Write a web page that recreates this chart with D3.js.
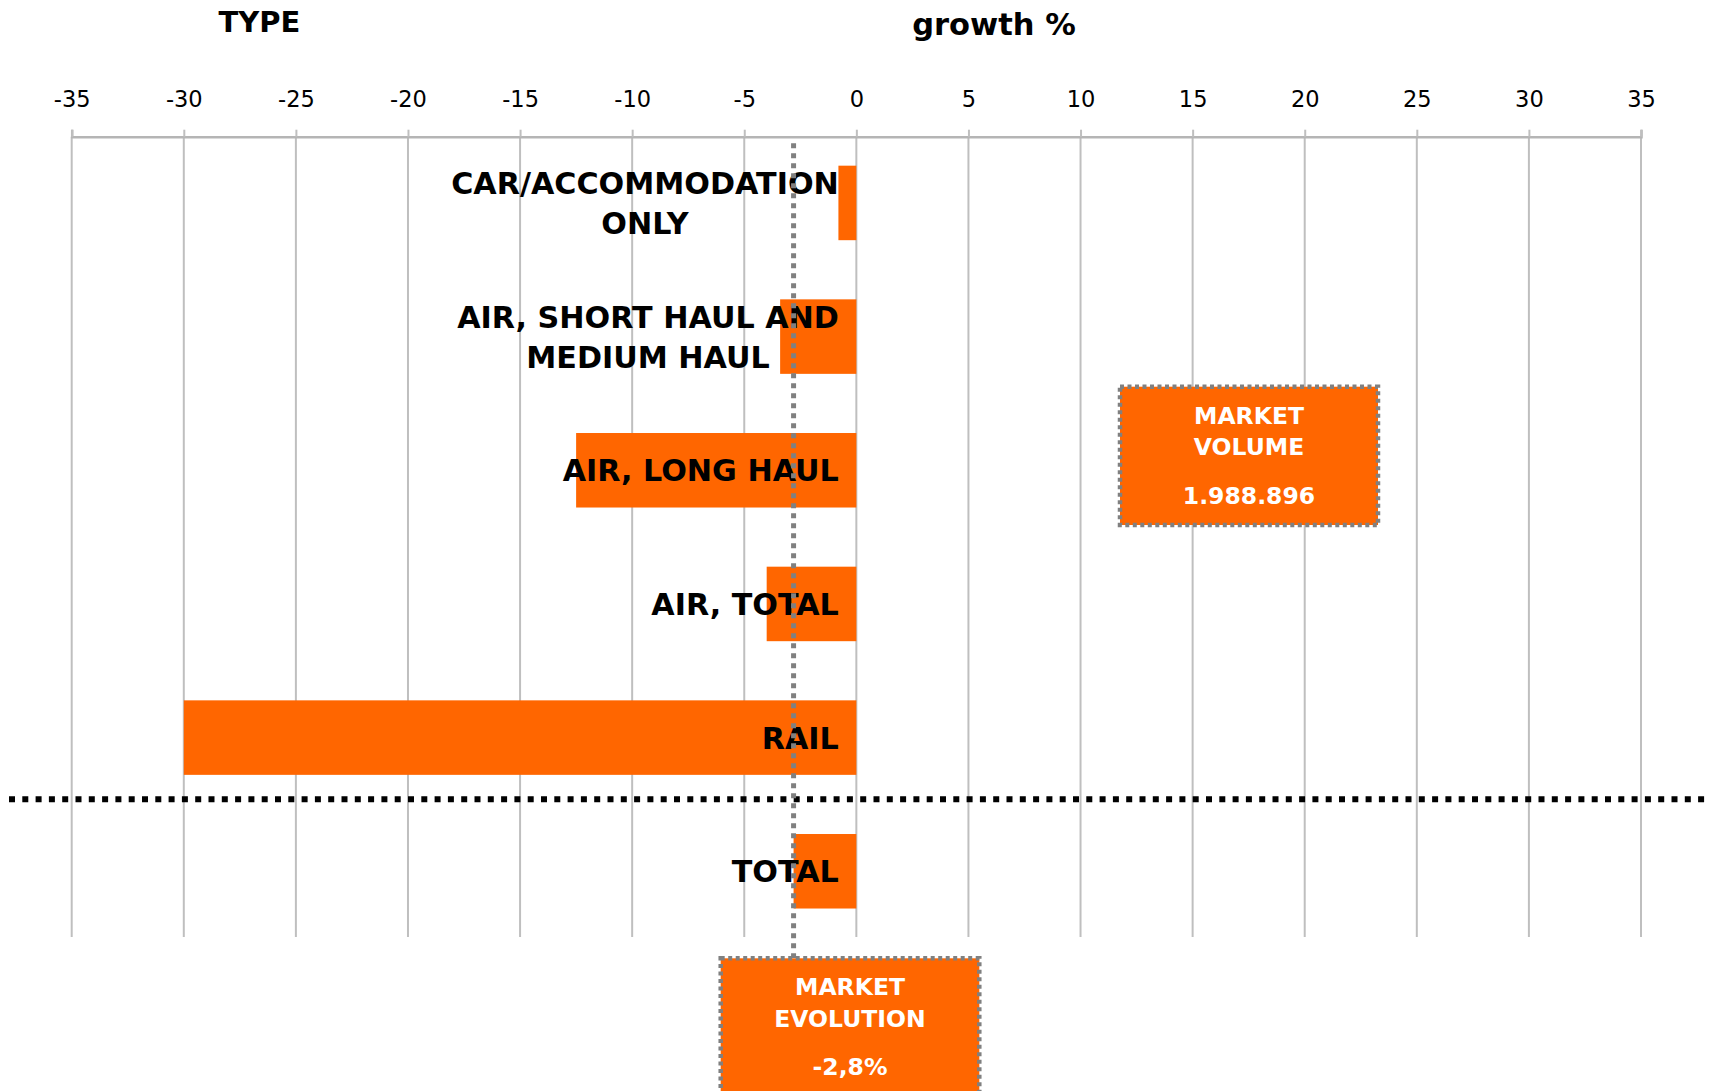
<!DOCTYPE html>
<html>
<head>
<meta charset="utf-8">
<script src="https://cdn.jsdelivr.net/npm/d3@7"></script>
<style>
  body { margin: 0; background: #fff; }
  svg { display: block; }
  text { font-family: "DejaVu Sans", Verdana, sans-serif; }
</style>
</head>
<body>
<div id="VizBox"></div>
<script>
// categories top to bottom (\n = line break in label)
var categories = [
  "CAR/ACCOMMODATION\nONLY",
  "AIR, SHORT HAUL AND\nMEDIUM HAUL",
  "AIR, LONG HAUL",
  "AIR, TOTAL",
  "RAIL",
  "TOTAL"
];
// growth % per category
var growth = [-0.8, -3.4, -12.5, -4.0, -30.0, -2.8];
var xTicks = [-35, -30, -25, -20, -15, -10, -5, 0, 5, 10, 15, 20, 25, 30, 35];

var marketVolume = ["MARKET", "VOLUME", "1.988.896"];
var marketEvolution = ["MARKET", "EVOLUTION", "-2,8%"];

var data = categories.map(function(c, i) { return {group: c, value: growth[i]}; });

var W = 1711, H = 1091;
var orange = "#ff6600";

var svg = d3.select("#VizBox")
  .append("svg")
    .attr("width", W)
    .attr("height", H);

// scales
var x = d3.scaleLinear()
  .domain([-35, 35])
  .range([71.7, 1641]);

var y = d3.scaleBand()
  .domain(categories)
  .range([136.1, 938.1])
  .paddingInner(0.4426)
  .paddingOuter(0.2213);

var axisY = 136.7;

// gridlines
svg.append("g")
  .selectAll("line")
  .data(xTicks)
  .enter()
  .append("line")
    .attr("x1", function(d) { return x(d); })
    .attr("x2", function(d) { return x(d); })
    .attr("y1", axisY)
    .attr("y2", 937)
    .attr("stroke", "#bfbfbf")
    .attr("stroke-width", 2);

// top axis
var xAxis = svg.append("g")
  .attr("transform", "translate(0," + axisY + ")")
  .call(d3.axisTop(x).tickValues(xTicks).tickSize(7).tickPadding(22.4).tickFormat(d3.format("d")));
xAxis.select(".domain")
  .attr("stroke", "#b5b5b5")
  .attr("stroke-width", 2.5);
xAxis.selectAll(".tick line")
  .attr("stroke", "#bfbfbf")
  .attr("stroke-width", 2);
xAxis.selectAll(".tick text")
  .attr("fill", "#000")
  .style("font-size", "22.5px")
  .style("font-family", "'DejaVu Sans', sans-serif")
  .text(function(d) { return d < 0 ? "-" + Math.abs(d) : d; });

// bars
svg.selectAll("rect.bar")
  .data(data)
  .enter()
  .append("rect")
    .attr("class", "bar")
    .attr("x", function(d) { return x(Math.min(0, d.value)); })
    .attr("y", function(d) { return y(d.group); })
    .attr("width", function(d) { return Math.abs(x(d.value) - x(0)); })
    .attr("height", y.bandwidth())
    .attr("fill", orange);

// category labels, centered block right-aligned near zero line
var labelRight = x(0) - 17.5;
var labels = svg.append("g");
data.forEach(function(d) {
  var lines = d.group.split("\n");
  var cy = y(d.group) + y.bandwidth() / 2;
  var g = labels.append("g");
  var t = g.selectAll("text")
    .data(lines)
    .enter()
    .append("text")
      .attr("text-anchor", "middle")
      .attr("y", function(l, i) { return cy + 11 + (i - (lines.length - 1) / 2) * 40; })
      .style("font-size", "30.2px")
      .style("font-weight", "bold")
      .attr("fill", "#000")
      .text(function(l) { return l; });
  var maxW = 0;
  t.each(function() { maxW = Math.max(maxW, this.getComputedTextLength()); });
  t.attr("x", labelRight - maxW / 2);
});

// black dotted separator before TOTAL
svg.append("line")
  .attr("x1", 9).attr("x2", W)
  .attr("y1", 799.3).attr("y2", 799.3)
  .attr("stroke", "#000")
  .attr("stroke-width", 6)
  .attr("stroke-dasharray", "6,7.3");

// market evolution reference line
var total = growth[growth.length - 1];
svg.append("line")
  .attr("x1", x(total)).attr("x2", x(total))
  .attr("y1", 143.3).attr("y2", 958)
  .attr("stroke", "#808080")
  .attr("stroke-width", 5)
  .attr("stroke-dasharray", "5,5");

// annotation boxes
function infoBox(x0, y0, w, h, lines) {
  var g = svg.append("g").attr("transform", "translate(" + x0 + "," + y0 + ")");
  g.append("rect")
    .attr("width", w).attr("height", h)
    .attr("fill", orange)
    .attr("stroke", "#808080")
    .attr("stroke-width", 4.5)
    .attr("stroke-dasharray", "4,3.5");
  var offs = [28.3, 60, 108.3];
  g.selectAll("text")
    .data(lines)
    .enter()
    .append("text")
      .attr("x", w / 2)
      .attr("y", function(l, i) { return offs[i] + 8.6; })
      .attr("text-anchor", "middle")
      .attr("fill", "#fff")
      .style("font-size", "23.5px")
      .style("font-weight", "bold")
      .text(function(l) { return l; });
}
infoBox(1120, 386.7, 258, 138.3, marketVolume);
infoBox(720.7, 958.3, 258.6, 140, marketEvolution);

// titles
svg.append("text")
  .attr("x", 259.5).attr("y", 32.3)
  .attr("text-anchor", "middle")
  .style("font-size", "29px")
  .style("font-weight", "bold")
  .text("TYPE");
svg.append("text")
  .attr("x", 994).attr("y", 35)
  .attr("text-anchor", "middle")
  .style("font-size", "30.5px")
  .style("font-weight", "bold")
  .text("growth %");
</script>
</body>
</html>
